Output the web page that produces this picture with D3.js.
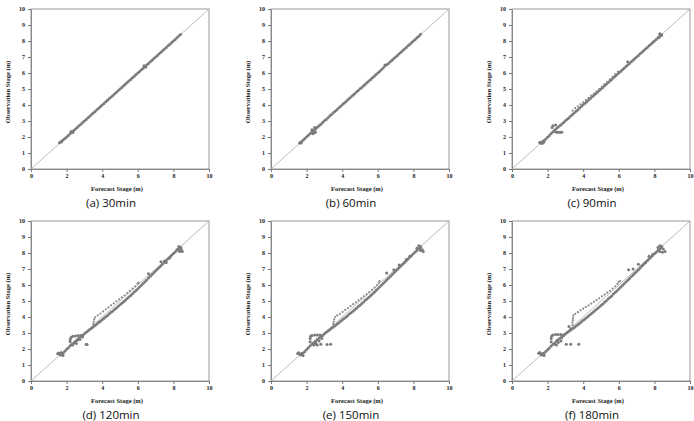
<!DOCTYPE html>
<html>
<head>
<meta charset="utf-8">
<script src="https://cdn.jsdelivr.net/npm/d3@7"></script>
<style>
  body { margin: 0; background: #fff; }
  .tick text { font-family: "Liberation Serif", serif; font-weight: bold; font-size: 6px; fill: #222; }
  .tick line { stroke: #777; }
  .domain { stroke: #888; }
</style>
</head>
<body>
<div id="chart"></div>
<script>
// forecast stage grid used by the main band of every panel
var forecastStage = [1.6,1.7,1.8,1.9,2.0,2.1,2.2,2.3,2.4,2.5,
  2.6,2.7,2.8,2.9,3.0,3.1,3.2,3.3,3.4,3.5,
  3.6,3.7,3.8,3.9,4.0,4.1,4.2,4.3,4.4,4.5,
  4.6,4.7,4.8,4.9,5.0,5.1,5.2,5.3,5.4,5.5,
  5.6,5.7,5.8,5.9,6.0,6.1,6.2,6.3,6.4,6.5,
  6.6,6.7,6.8,6.9,7.0,7.1,7.2,7.3,7.4,7.5,
  7.6,7.7,7.8,7.9,8.0,8.1,8.2,8.3,8.4];

// observed stage on the main band, one array per lead time
var obs30 = [1.64,1.72,1.81,1.90,2.00,2.10,2.21,2.31,2.40,2.50,
  2.60,2.70,2.80,2.90,3.00,3.10,3.20,3.30,3.40,3.50,
  3.60,3.70,3.80,3.90,4.00,4.10,4.20,4.30,4.40,4.50,
  4.60,4.70,4.80,4.90,5.00,5.10,5.20,5.30,5.40,5.50,
  5.60,5.70,5.80,5.90,6.00,6.10,6.20,6.30,6.41,6.50,
  6.60,6.70,6.80,6.90,7.00,7.10,7.20,7.30,7.40,7.50,
  7.60,7.70,7.80,7.90,8.00,8.10,8.20,8.31,8.40];
var obs60 = [1.63,1.71,1.80,1.91,2.01,2.11,2.22,2.33,2.42,2.50,
  2.61,2.70,2.80,2.91,3.01,3.10,3.21,3.31,3.41,3.51,
  3.61,3.71,3.81,3.91,4.01,4.11,4.21,4.31,4.41,4.51,
  4.61,4.71,4.81,4.91,5.01,5.10,5.20,5.30,5.40,5.50,
  5.60,5.70,5.80,5.90,6.00,6.10,6.20,6.31,6.43,6.51,
  6.60,6.70,6.80,6.90,7.00,7.10,7.20,7.30,7.40,7.50,
  7.60,7.70,7.80,7.90,8.00,8.10,8.20,8.30,8.42];
var obs90 = [1.66,1.70,1.78,1.88,1.99,2.10,2.22,2.33,2.43,2.53,
  2.63,2.72,2.82,2.91,3.01,3.11,3.21,3.31,3.41,3.51,
  3.61,3.71,3.81,3.91,4.01,4.11,4.21,4.31,4.41,4.51,
  4.61,4.71,4.80,4.90,5.00,5.10,5.20,5.30,5.40,5.50,
  5.60,5.70,5.80,5.90,6.00,6.10,6.20,6.30,6.40,6.50,
  6.60,6.70,6.80,6.90,7.00,7.10,7.20,7.30,7.40,7.50,
  7.60,7.70,7.80,7.90,8.00,8.10,8.20,8.30,8.40];
var obs120 = [1.70,1.68,1.74,1.86,1.98,2.08,2.20,2.30,2.38,2.48,
  2.58,2.68,2.77,2.86,2.96,3.05,3.13,3.22,3.30,3.39,
  3.47,3.56,3.65,3.74,3.83,3.92,4.01,4.10,4.20,4.29,
  4.38,4.48,4.57,4.67,4.76,4.86,4.96,5.05,5.15,5.25,
  5.35,5.45,5.56,5.66,5.77,5.88,5.99,6.10,6.21,6.32,
  6.43,6.54,6.65,6.76,6.87,6.98,7.09,7.20,7.31,7.42,
  7.53,7.64,7.75,7.86,7.97,8.07,8.17,8.27,8.36];
var obs150 = [1.71,1.67,1.73,1.85,1.97,2.08,2.20,2.31,2.39,2.49,
  2.59,2.68,2.77,2.85,2.95,3.04,3.12,3.21,3.29,3.37,
  3.45,3.54,3.63,3.72,3.81,3.90,3.99,4.08,4.18,4.27,
  4.36,4.46,4.55,4.65,4.74,4.84,4.94,5.04,5.14,5.24,
  5.34,5.44,5.55,5.65,5.76,5.87,5.98,6.09,6.20,6.31,
  6.42,6.53,6.64,6.75,6.86,6.97,7.08,7.19,7.30,7.41,
  7.52,7.63,7.74,7.85,7.96,8.06,8.16,8.26,8.35];
var obs180 = [1.72,1.66,1.72,1.84,1.96,2.07,2.19,2.30,2.38,2.48,
  2.58,2.67,2.76,2.84,2.94,3.03,3.11,3.19,3.27,3.35,
  3.43,3.52,3.61,3.70,3.79,3.88,3.97,4.06,4.16,4.25,
  4.34,4.44,4.53,4.63,4.72,4.82,4.92,5.02,5.12,5.22,
  5.32,5.43,5.54,5.64,5.75,5.86,5.97,6.08,6.19,6.30,
  6.41,6.52,6.63,6.74,6.85,6.96,7.07,7.18,7.29,7.40,
  7.51,7.62,7.73,7.84,7.95,8.05,8.15,8.25,8.34];

// upper (rising-limb) branch: [forecast, observed]
var branch90 = [[3.4,3.65],[3.55,3.8],[3.7,3.92],[3.85,4.04],[4.0,4.17],[4.15,4.3],[4.3,4.44],
  [4.45,4.58],[4.6,4.72],[4.75,4.86],[4.9,5.0],[5.05,5.15],[5.2,5.3],[5.35,5.45],[5.5,5.6],
  [5.65,5.76],[5.8,5.92],[5.95,6.08]];
var branch120 = [[3.5,3.55],[3.52,3.7],[3.55,3.85],[3.6,3.98],[3.75,4.1],[3.9,4.22],[4.05,4.35],
  [4.2,4.48],[4.35,4.6],[4.5,4.73],[4.65,4.85],[4.8,4.98],[4.95,5.1],[5.1,5.23],[5.25,5.36],
  [5.4,5.5],[5.55,5.63],[5.7,5.77],[5.85,5.92],[5.98,6.08],[6.05,6.15]];
var branch150 = [[3.5,3.55],[3.52,3.7],[3.55,3.85],[3.6,4.0],[3.72,4.1],[3.87,4.2],[4.02,4.32],
  [4.17,4.44],[4.32,4.56],[4.47,4.68],[4.62,4.8],[4.77,4.92],[4.92,5.04],[5.07,5.16],[5.22,5.29],
  [5.37,5.42],[5.52,5.56],[5.67,5.7],[5.82,5.84],[5.95,6.0],[6.05,6.15],[6.1,6.25]];
var branch180 = [[3.4,3.5],[3.4,3.65],[3.42,3.8],[3.42,3.95],[3.45,4.1],[3.55,4.2],[3.7,4.3],
  [3.85,4.42],[4.0,4.52],[4.15,4.63],[4.3,4.73],[4.45,4.84],[4.6,4.95],[4.75,5.06],[4.9,5.17],
  [5.05,5.29],[5.2,5.4],[5.35,5.52],[5.5,5.64],[5.65,5.78],[5.8,5.92],[5.92,6.07],[6.0,6.2],[6.08,6.25]];

// other points off the main band: [forecast, observed]
var extra30 = [[2.25,2.35],[2.35,2.28],[6.35,6.45],[6.45,6.38],[1.7,1.68]];
var extra60 = [[2.3,2.45],[2.4,2.25],[2.45,2.6],[2.5,2.3],[2.35,2.2],[6.4,6.5],[1.7,1.62]];
var extra90 = [[2.3,2.7],[2.25,2.6],[2.45,2.75],[2.5,2.3],[2.6,2.3],[2.7,2.3],[2.8,2.3],[2.4,2.35],
  [1.55,1.65],[1.65,1.6],[1.8,1.7],[1.75,1.62],[8.3,8.45],[8.4,8.35],[8.25,8.2],[6.5,6.7]];
var extra120 = [[2.2,2.45],[2.2,2.6],[2.25,2.72],[2.35,2.8],[2.5,2.82],[2.65,2.85],[2.8,2.85],[2.45,2.4],
  [2.55,2.35],[2.35,2.25],[2.6,2.55],[2.75,2.6],[2.9,2.75],[3.1,2.3],[3.15,2.28],
  [1.5,1.7],[1.55,1.75],[1.65,1.62],[1.75,1.72],[1.8,1.6],[1.7,1.78],
  [8.3,8.4],[8.4,8.35],[8.45,8.2],[8.5,8.1],[8.35,8.1],[8.2,8.2],[8.3,8.25],
  [6.6,6.7],[7.3,7.45],[7.5,7.5],[7.8,7.7],[7.6,7.4]];
var extra150 = [[2.2,2.45],[2.2,2.65],[2.22,2.8],[2.3,2.85],[2.45,2.87],[2.6,2.88],[2.75,2.88],[2.9,2.85],
  [2.5,2.4],[2.4,2.25],[2.55,2.3],[2.7,2.5],[2.85,2.65],[2.6,2.25],[2.8,2.3],[3.15,2.28],[3.35,2.3],
  [1.5,1.72],[1.55,1.76],[1.65,1.62],[1.75,1.73],[1.8,1.6],
  [8.3,8.45],[8.4,8.4],[8.5,8.2],[8.55,8.1],[8.4,8.15],[8.2,8.3],
  [6.5,6.75],[6.9,6.95],[7.2,7.25],[7.6,7.6],[7.8,7.8]];
var extra180 = [[2.2,2.45],[2.2,2.65],[2.22,2.8],[2.3,2.88],[2.45,2.9],[2.6,2.9],[2.75,2.9],[2.9,2.88],
  [2.4,2.3],[2.5,2.25],[2.6,2.4],[2.55,2.55],[2.75,2.5],[2.8,2.7],[3.05,2.3],[3.3,2.3],[3.75,2.3],
  [1.5,1.74],[1.55,1.78],[1.65,1.62],[1.75,1.74],[1.8,1.6],
  [8.2,8.35],[8.3,8.45],[8.4,8.42],[8.5,8.25],[8.6,8.1],[8.45,8.05],[8.3,8.1],
  [6.55,6.95],[6.8,7.0],[7.1,7.3],[7.3,7.2],[7.5,7.4],[7.7,7.8],[7.9,7.9],[3.2,3.4],[3.3,3.25]];

var captions = ['(a) 30min', '(b) 60min', '(c) 90min', '(d) 120min', '(e) 150min', '(f) 180min'];
var mainObs = [obs30, obs60, obs90, obs120, obs150, obs180];
var branches = [[], [], branch90, branch120, branch150, branch180];
var extras = [extra30, extra60, extra90, extra120, extra150, extra180];
var yTicks = [0,1,2,3,4,5,6,7,8,9,10];
var xTicks = [0,2,4,6,8,10];

var width = 694, height = 421;
var colLeft = [31, 271, 512];
var rowTop = [9, 221];
var plotW = 178, plotH = 160;

var svg = d3.select('#chart')
  .append('svg')
  .attr('width', width)
  .attr('height', height);

captions.forEach(function(cap, i) {
  var left = colLeft[i % 3], top = rowTop[Math.floor(i / 3)];
  var g = svg.append('g').attr('transform', 'translate(' + left + ',' + top + ')');

  var x = d3.scaleLinear().domain([0, 10]).range([0, plotW]);
  var y = d3.scaleLinear().domain([0, 10]).range([plotH, 0]);

  // plot frame
  g.append('rect')
    .attr('width', plotW).attr('height', plotH)
    .attr('fill', 'none').attr('stroke', '#999').attr('stroke-width', 1);

  g.append('g')
    .call(d3.axisLeft(y).tickValues(yTicks).tickSize(3).tickPadding(3).tickSizeOuter(0));
  g.append('g')
    .attr('transform', 'translate(0,' + plotH + ')')
    .call(d3.axisBottom(x).tickValues(xTicks).tickSize(3).tickPadding(2).tickSizeOuter(0));

  // 1:1 line
  g.append('line')
    .attr('x1', x(0)).attr('y1', y(0))
    .attr('x2', x(10)).attr('y2', y(10))
    .attr('stroke', '#aaa').attr('stroke-width', 0.8);

  var pts = forecastStage.map(function(f, k) { return [f, mainObs[i][k]]; })
    .concat(extras[i]);

  g.append('g').selectAll('circle')
    .data(pts)
    .enter()
    .append('circle')
    .attr('cx', function(d) { return x(d[0]); })
    .attr('cy', function(d) { return y(d[1]); })
    .attr('r', 1.5)
    .attr('fill', '#7a7a7a');

  // rising branch drawn with smaller, lighter marks
  g.append('g').selectAll('circle')
    .data(branches[i])
    .enter()
    .append('circle')
    .attr('cx', function(d) { return x(d[0]); })
    .attr('cy', function(d) { return y(d[1]); })
    .attr('r', 1.1)
    .attr('fill', '#8a8a8a');

  g.append('text')
    .attr('x', plotW / 2 - 3).attr('y', plotH + 22)
    .attr('text-anchor', 'middle')
    .style('font-family', '"Liberation Serif", serif')
    .style('font-weight', 'bold')
    .style('font-size', '6.5px')
    .attr('fill', '#222')
    .text('Forecast Stage (m)');

  g.append('text')
    .attr('transform', 'translate(-21,' + (plotH / 2 + 3) + ') rotate(-90)')
    .attr('text-anchor', 'middle')
    .style('font-family', '"Liberation Serif", serif')
    .style('font-weight', 'bold')
    .style('font-size', '6.5px')
    .attr('fill', '#222')
    .text('Observation Stage (m)');

  g.append('text')
    .attr('x', plotW / 2 - 9).attr('y', plotH + 38)
    .attr('text-anchor', 'middle')
    .style('font-family', '"Open Sans", sans-serif')
    .style('font-size', '11.5px')
    .attr('fill', '#111')
    .text(cap);
});
</script>
</body>
</html>
